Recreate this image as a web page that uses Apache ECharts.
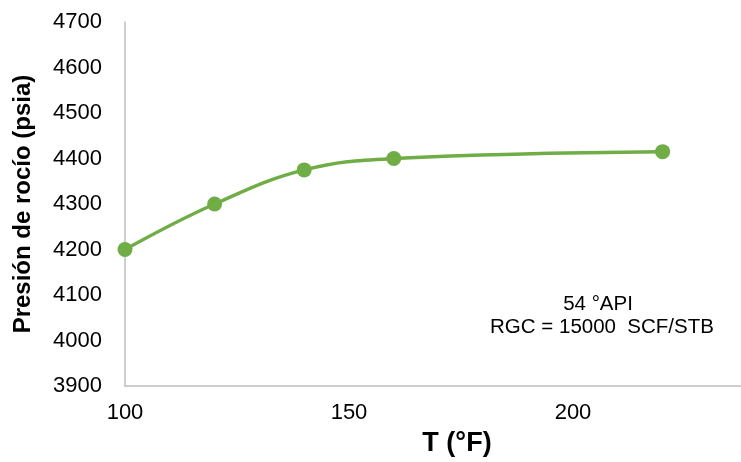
<!DOCTYPE html>
<html><head><meta charset="utf-8">
<script src="https://cdn.jsdelivr.net/npm/echarts@6/dist/echarts.min.js"></script>
<style>html,body{margin:0;padding:0;background:#fff;overflow:hidden}#c{width:741px;height:462px}</style>
</head><body><div id="c"></div>
<script>
const temperatures = [100, 120, 140, 160, 220];
const dewPressures = [4200, 4300, 4375, 4400, 4415];
const yAxisName = 'Presión de rocío (psia)';
const xAxisName = 'T (°F)';
const noteLines = ['54 °API', 'RGC = 15000  SCF/STB'];

const chart = echarts.init(document.getElementById('c'));
const font = 'Liberation Sans, Arial, sans-serif';
chart.setOption({
  animation: false,
  grid: {left: 125, top: 22, right: 0, bottom: 73, containLabel: false},
  xAxis: {
    type: 'value', min: 100, max: 237.5, interval: 50,
    name: xAxisName, nameLocation: 'middle', nameGap: 44,
    nameTextStyle: {fontFamily: font, fontSize: 27, fontWeight: 'bold', color: '#000', padding: [0, 0, 0, 48]},
    axisLine: {show: true, lineStyle: {color: '#bfbfbf', width: 1.5}},
    axisTick: {show: false}, splitLine: {show: false},
    axisLabel: {fontFamily: font, fontSize: 22, color: '#000', margin: 16, showMaxLabel: false,
      formatter: v => (v % 50 === 0 ? String(v) : '')}
  },
  yAxis: {
    type: 'value', min: 3900, max: 4700, interval: 100,
    name: yAxisName, nameLocation: 'middle', nameGap: 90,
    nameTextStyle: {fontFamily: font, fontSize: 24, fontWeight: 'bold', color: '#000'},
    axisLine: {show: true, lineStyle: {color: '#bfbfbf', width: 1.5}},
    axisTick: {show: false}, splitLine: {show: false},
    axisLabel: {fontFamily: font, fontSize: 22, color: '#000', margin: 23, formatter: v => String(v)}
  },
  series: [{
    type: 'line',
    data: temperatures.map((t, i) => [t, dewPressures[i]]),
    smooth: 0.4,
    symbol: 'circle', symbolSize: 15,
    lineStyle: {color: '#70ad47', width: 3.5},
    itemStyle: {color: '#70ad47'}
  }],
  graphic: [
    {type: 'text', x: 598, y: 304, style: {text: noteLines[0], fontFamily: font, fontSize: 20.5, fill: '#000', textAlign: 'center', textVerticalAlign: 'middle'}},
    {type: 'text', x: 602, y: 327, style: {text: noteLines[1], fontFamily: font, fontSize: 20.5, fill: '#000', textAlign: 'center', textVerticalAlign: 'middle'}}
  ]
});
</script></body></html>
